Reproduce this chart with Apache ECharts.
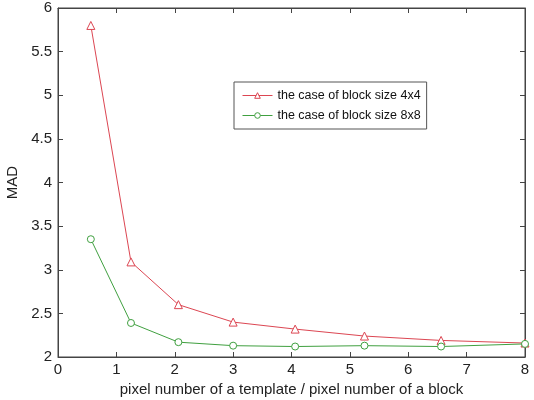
<!DOCTYPE html>
<html><head><meta charset="utf-8">
<script src="https://cdn.jsdelivr.net/npm/echarts@6/dist/echarts.min.js"></script>
<style>html,body{margin:0;padding:0;background:#fff}#c{width:534px;height:400px}</style>
</head><body><div id="c"></div>
<script>
const xValues = [0.5625, 1.25, 2.0625, 3.0, 4.0625, 5.25, 6.5625, 8.0];
const red4x4 = [5.80, 3.09, 2.60, 2.40, 2.32, 2.24, 2.19, 2.16];
const green8x8 = [3.35, 2.39, 2.17, 2.13, 2.12, 2.13, 2.12, 2.15];
const seriesNames = ['the case of block size 4x4', 'the case of block size 8x8'];
const xTitle = 'pixel number of a template / pixel number of a block';
const yTitle = 'MAD';

const font = 'Liberation Sans, Arial, sans-serif';
const chart = echarts.init(document.getElementById('c'));
const pairs = (ys) => xValues.map((x, i) => [x, ys[i]]);
const tick = () => ({show: true, inside: true, length: 5, lineStyle: {color: '#444', width: 1}});
const line = () => ({show: true, onZero: false, lineStyle: {color: '#444'}});
chart.setOption({
  animation: false,
  textStyle: {fontFamily: font},
  grid: {left: 58, right: 9, top: 8, bottom: 43, show: true, borderColor: '#444', borderWidth: 1,
         backgroundColor: '#fff', containLabel: false, outerBoundsMode: 'none'},
  legend: {
    orient: 'vertical', left: 234, top: 82,
    borderColor: '#555', borderWidth: 1, backgroundColor: '#fff',
    padding: [7, 6, 7, 8], itemGap: 7, itemWidth: 30, itemHeight: 7,
    lineStyle: {width: 1},
    itemStyle: {borderWidth: 1},
    textStyle: {fontSize: 12.5, color: '#111', fontFamily: font},
    data: seriesNames
  },
  xAxis: [
    {type: 'value', min: 0, max: 8, interval: 1, position: 'bottom',
     name: xTitle, nameLocation: 'middle', nameGap: 23,
     nameTextStyle: {fontSize: 15, color: '#222'},
     axisLine: line(), axisTick: tick(),
     axisLabel: {fontSize: 15, color: '#222', margin: 5}, splitLine: {show: false}},
    {type: 'value', min: 0, max: 8, interval: 1, position: 'top',
     axisLine: line(), axisTick: tick(),
     axisLabel: {show: false}, splitLine: {show: false}}
  ],
  yAxis: [
    {type: 'value', min: 2, max: 6, interval: 0.5, position: 'left',
     name: yTitle, nameLocation: 'middle', nameGap: 31, nameRotate: 90,
     nameTextStyle: {fontSize: 15, color: '#222'},
     axisLine: line(), axisTick: tick(),
     axisLabel: {fontSize: 15, color: '#222', margin: 6}, splitLine: {show: false}},
    {type: 'value', min: 2, max: 6, interval: 0.5, position: 'right',
     axisLine: line(), axisTick: tick(),
     axisLabel: {show: false}, splitLine: {show: false}}
  ],
  series: [
    {name: seriesNames[0], type: 'line', data: pairs(red4x4),
     symbol: 'triangle', symbolSize: 8, showAllSymbol: true,
     lineStyle: {color: '#dc4652', width: 1},
     itemStyle: {color: '#fff', borderColor: '#dc4652', borderWidth: 1}},
    {name: seriesNames[1], type: 'line', data: pairs(green8x8),
     symbol: 'circle', symbolSize: 7, showAllSymbol: true,
     lineStyle: {color: '#40a040', width: 1},
     itemStyle: {color: '#fff', borderColor: '#40a040', borderWidth: 1}}
  ]
});
</script></body></html>
